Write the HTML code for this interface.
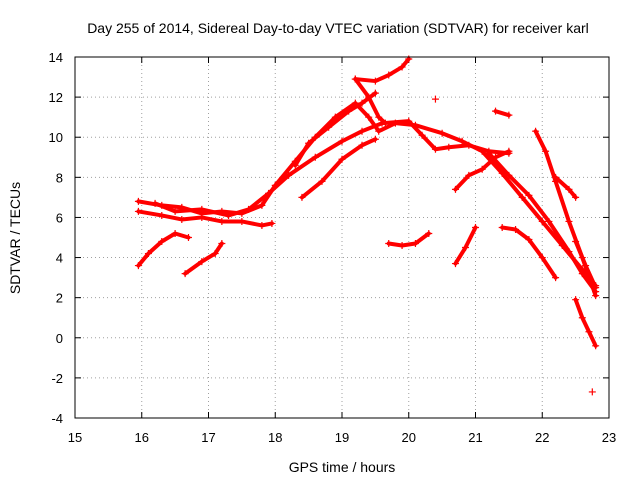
<!DOCTYPE html>
<html><head><meta charset="utf-8"><style>
body{margin:0;background:#fff;}
svg{display:block;font-family:"Liberation Sans",sans-serif;}
</style></head><body>
<svg id="chart" width="640" height="480">
<rect width="640" height="480" fill="#fff"/>
<text x="338" y="33" font-size="14" text-anchor="middle" fill="#000">Day 255 of 2014, Sidereal Day-to-day VTEC variation (SDTVAR) for receiver karl</text>
<text x="342" y="472" font-size="14" text-anchor="middle" fill="#000">GPS time / hours</text>
<text x="20" y="238" font-size="14" text-anchor="middle" fill="#000" transform="rotate(-90 20 238)">SDTVAR / TECUs</text>
<g id="grid"></g><g id="ticks"></g><g id="marks"></g>
<rect x="75" y="57" width="534" height="361" fill="none" stroke="#000" stroke-width="1"/>
</svg>
<script>
const xTicks=[15,16,17,18,19,20,21,22,23];
const yTicks=[-4,-2,0,2,4,6,8,10,12,14];
const trackA=[[15.95,6.8],[16.3,6.6],[16.6,6.5],[16.9,6.2],[17.2,6.3],[17.5,6.2],[17.8,6.6],[18.0,7.6],[18.3,8.8],[18.6,10.0],[18.9,11.0],[19.2,11.7],[19.4,11.0],[19.55,10.3],[19.8,10.7],[20.1,10.6],[20.5,10.2],[20.8,9.8],[21.1,9.3],[21.4,8.2],[21.7,7.0],[22.0,5.8],[22.3,4.6],[22.6,3.4],[22.8,2.6]];
const trackB=[[15.95,6.3],[16.3,6.1],[16.6,5.9],[16.9,6.0],[17.2,5.8],[17.5,5.8],[17.8,5.6],[17.95,5.7]];
const trackC=[[16.2,6.7],[16.5,6.3],[16.9,6.4],[17.3,6.1],[17.6,6.4],[17.9,7.2],[18.2,8.1],[18.6,9.0],[19.0,9.8],[19.3,10.3],[19.6,10.7],[20.0,10.8],[20.2,10.1],[20.4,9.4],[20.6,9.5],[20.9,9.6],[21.2,9.3],[21.5,9.2]];
const trackD=[[18.4,7.0],[18.7,7.8],[19.0,8.9],[19.3,9.6],[19.5,9.9]];
const trackE=[[18.3,8.6],[18.5,9.7],[18.8,10.5],[19.1,11.3],[19.3,11.7],[19.5,12.2]];
const trackF=[[19.2,12.9],[19.5,12.8],[19.7,13.1],[19.9,13.5],[20.0,13.9]];
const trackF2=[[19.2,12.9],[19.4,12.0],[19.55,11.0],[19.65,10.7]];
const trackG=[[15.95,3.6],[16.1,4.2],[16.3,4.8],[16.5,5.2],[16.7,5.0]];
const trackH=[[16.65,3.2],[16.9,3.8],[17.1,4.2],[17.2,4.7]];
const trackI=[[19.7,4.7],[19.9,4.6],[20.1,4.7],[20.3,5.2]];
const trackJ=[[20.7,3.7],[20.85,4.5],[21.0,5.5]];
const trackK=[[20.7,7.4],[20.9,8.1],[21.1,8.4],[21.3,9.0],[21.5,9.3]];
const trackL=[[21.3,11.3],[21.5,11.1]];
const trackM=[[21.4,5.5],[21.6,5.4],[21.8,4.9],[22.0,4.0],[22.2,3.0]];
const trackN=[[21.9,10.3],[22.05,9.3],[22.2,7.8],[22.4,5.8],[22.6,4.0],[22.8,2.1]];
const trackO=[[22.2,8.0],[22.4,7.4],[22.5,7.0]];
const trackP=[[22.5,1.9],[22.6,1.0],[22.7,0.3],[22.8,-0.4]];
const trackQ=[[22.5,4.8],[22.65,3.6],[22.8,2.5]];
const trackR=[[21.2,9.2],[21.5,8.1],[21.8,7.1],[22.1,5.8],[22.4,4.3],[22.6,3.2],[22.8,2.3]];
const trackS=[[22.75,-2.7]];
const trackT=[[20.4,11.9]];
const tracks=[trackA,trackB,trackC,trackD,trackE,trackF,trackF2,trackG,trackH,trackI,trackJ,trackK,trackL,trackM,trackN,trackO,trackP,trackQ,trackR,trackS,trackT];
const NS="http://www.w3.org/2000/svg";
function xs(v){return 75+(v-15)*534/8;}
function ys(v){return 418-(v+4)*361/18;}
const grid=document.getElementById('grid'),ticks=document.getElementById('ticks'),marks=document.getElementById('marks');
function mk(t,a){const e=document.createElementNS(NS,t);for(const k in a)e.setAttribute(k,a[k]);return e;}
xTicks.forEach(v=>{const x=xs(v);
 if(v>15&&v<23){const g=mk('line',{x1:x,x2:x,y1:57,y2:418,stroke:'#a0a0a0','stroke-dasharray':'1,3'});
 
 grid.appendChild(g);}
 const t=mk('text',{x:x,y:442,'font-size':13,'text-anchor':'middle'});t.textContent=v;
 
 ticks.appendChild(t);
 ticks.appendChild(mk('line',{x1:x,x2:x,y1:418,y2:412,stroke:'#000'}));
 ticks.appendChild(mk('line',{x1:x,x2:x,y1:57,y2:63,stroke:'#000'}));});
yTicks.forEach(v=>{const y=ys(v);
 if(v>-4&&v<14){const g=mk('line',{x1:75,x2:609,y1:y,y2:y,stroke:'#a0a0a0','stroke-dasharray':'1,3'});
 
 grid.appendChild(g);}
 const t=mk('text',{x:63,y:y+5,'font-size':13,'text-anchor':'end'});t.textContent=v;
 
 ticks.appendChild(t);
 ticks.appendChild(mk('line',{x1:75,x2:81,y1:y,y2:y,stroke:'#000'}));
 ticks.appendChild(mk('line',{x1:609,x2:603,y1:y,y2:y,stroke:'#000'}));});
tracks.forEach(tr=>{
 const g=mk('g',{});
 
 
 if(tr.length>1){const p=mk('polyline',{points:tr.map(d=>xs(d[0])+','+ys(d[1])).join(' '),fill:'none',stroke:'#ff0000','stroke-width':4,'stroke-linejoin':'round','stroke-linecap':'round'});g.appendChild(p);}
 tr.forEach(d=>{const x=xs(d[0]),y=ys(d[1]);
  g.appendChild(mk('path',{d:`M${x-3.5},${y}H${x+3.5}M${x},${y-3.5}V${y+3.5}`,stroke:'#ff0000','stroke-width':1.2}));});
 marks.appendChild(g);});
</script>
</body></html>
